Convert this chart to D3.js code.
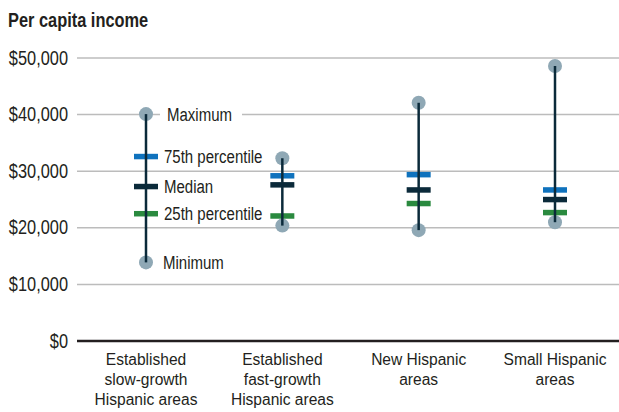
<!DOCTYPE html>
<html>
<head>
<meta charset="utf-8">
<script src="https://cdn.jsdelivr.net/npm/d3@7"></script>
<style>
  body { margin: 0; background: #fff; }
  svg text { font-family: "Liberation Sans", Arial, sans-serif; fill: #231f20; }
</style>
</head>
<body>
<svg id="chart" width="619" height="412"></svg>
<script>
// categories and values (per capita income, dollars)
var categories = [
  ["Established", "slow-growth", "Hispanic areas"],
  ["Established", "fast-growth", "Hispanic areas"],
  ["New Hispanic", "areas"],
  ["Small Hispanic", "areas"]
];
var maxVals = [40000, 32200, 42000, 48500];
var p75Vals = [32500, 29100, 29300, 26600];
var medianVals = [27200, 27500, 26600, 24900];
var p25Vals = [22400, 22000, 24200, 22600];
var minVals = [13800, 20300, 19500, 20900];
var yTicks = [0, 10000, 20000, 30000, 40000, 50000];

var svg = d3.select("#chart");

var x = d3.scalePoint()
  .domain(d3.range(categories.length))
  .range([146, 555]);

var y = d3.scaleLinear()
  .domain([0, 50000])
  .range([340.5, 57.5]);

// title, squeezed to look like a condensed face
svg.append("g")
  .attr("transform", "translate(8,26.5) scale(0.82,1)")
  .append("text")
  .style("font-size", "20px")
  .style("font-weight", "bold")
  .text("Per capita income");

// gridlines + tick labels
var TX = 0.84;
var yAxis = svg.append("g")
  .attr("transform", "translate(77,0)")
  .call(d3.axisLeft(y).tickValues(yTicks).tickSize(-542)
    .tickFormat(function(d){ return "$" + d3.format(",")(d); }));
yAxis.select(".domain").remove();
yAxis.selectAll(".tick line")
  .attr("stroke", function(d){ return d == 0 ? "#231f20" : "#bcbcbc"; })
  .attr("stroke-width", function(d){ return d == 0 ? 2.5 : 1.5; });
yAxis.selectAll(".tick text")
  .style("font-size", "19.5px")
  .attr("font-family", null)
  .attr("fill", null)
  .attr("x", -9 / TX)
  .attr("dy", "0.34em")
  .attr("transform", "scale(" + TX + ",1)");

// annotation labels for first category
var AX = 0.79;
var labels = [
  {v: maxVals[0], t: "Maximum", dx: 21, bg: true},
  {v: p75Vals[0], t: "75th percentile", dx: 18},
  {v: medianVals[0], t: "Median", dx: 18},
  {v: p25Vals[0], t: "25th percentile", dx: 18},
  {v: minVals[0], t: "Minimum", dx: 17}
];
var lg = svg.append("g");
labels.forEach(function(l){
  var gg = lg.append("g")
    .attr("transform", "translate(" + (x(0) + l.dx) + "," + y(l.v) + ") scale(" + AX + ",1)");
  var t = gg.append("text")
    .attr("dy", "0.34em")
    .style("font-size", "19px")
    .text(l.t);
  if (l.bg) {
    var bb = t.node().getBBox();
    gg.insert("rect", "text")
      .attr("x", bb.x - 7 / AX)
      .attr("y", -3)
      .attr("width", bb.width + 17 / AX)
      .attr("height", 6)
      .attr("fill", "#fff");
  }
});

var g = svg.selectAll(".cat")
  .data(categories)
  .enter()
  .append("g")
  .attr("class", "cat");

g.append("circle")
  .attr("cx", function(d, i){ return x(i); })
  .attr("cy", function(d, i){ return y(maxVals[i]); })
  .attr("r", 7)
  .attr("fill", "#8fa8b5");
g.append("circle")
  .attr("cx", function(d, i){ return x(i); })
  .attr("cy", function(d, i){ return y(minVals[i]); })
  .attr("r", 7)
  .attr("fill", "#8fa8b5");

function bar(vals, color){
  g.append("rect")
    .attr("x", function(d, i){ return x(i) - 12; })
    .attr("y", function(d, i){ return y(vals[i]) - 2.75; })
    .attr("width", 24)
    .attr("height", 5.5)
    .attr("fill", color);
}
bar(p75Vals, "#0f72bd");
bar(medianVals, "#0b2a3a");
bar(p25Vals, "#2a8a3f");

g.append("line")
  .attr("x1", function(d, i){ return x(i); })
  .attr("x2", function(d, i){ return x(i); })
  .attr("y1", function(d, i){ return y(maxVals[i]); })
  .attr("y2", function(d, i){ return y(minVals[i]); })
  .attr("stroke", "#0b2a3a")
  .attr("stroke-width", 2.5);

// category labels
var CX = 0.9;
g.append("g")
  .attr("transform", function(d, i){ return "translate(" + x(i) + ",364.5) scale(" + CX + ",1)"; })
  .append("text")
  .attr("text-anchor", "middle")
  .style("font-size", "17.3px")
  .selectAll("tspan")
  .data(function(d){ return d; })
  .enter()
  .append("tspan")
  .attr("x", 0)
  .attr("y", function(d, j){ return j * 20.5; })
  .text(function(d){ return d; });
</script>
</body>
</html>
